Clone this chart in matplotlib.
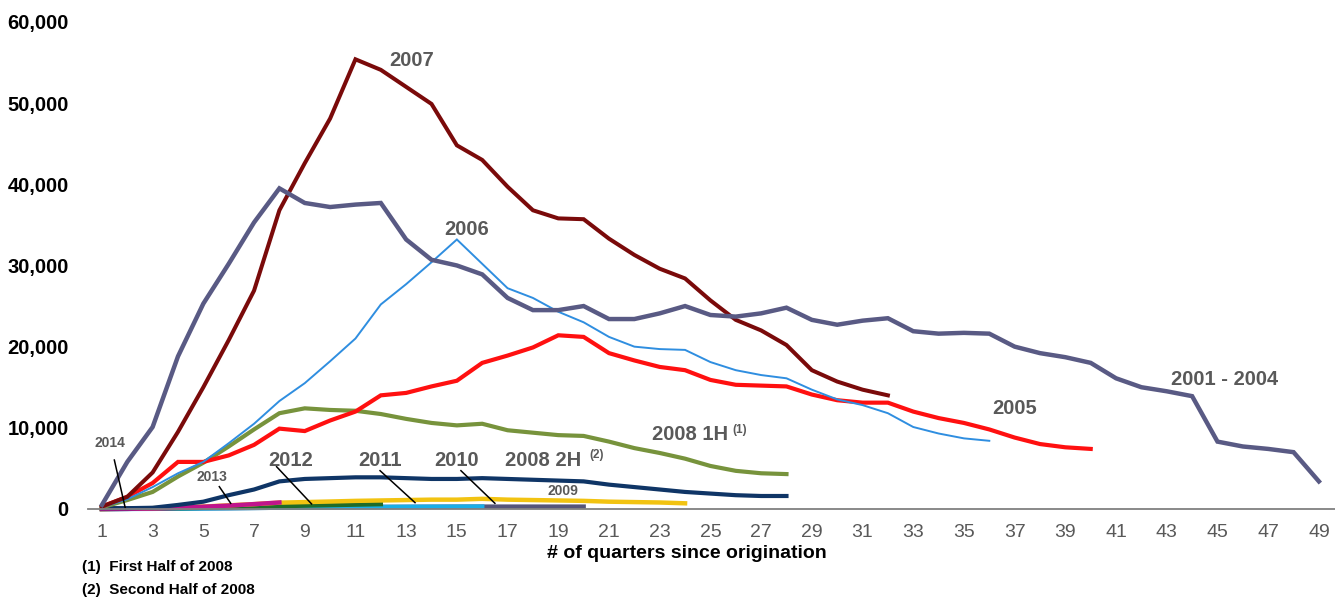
import matplotlib
matplotlib.use("Agg")
import matplotlib.pyplot as plt
import numpy as np

plt.rcParams['font.family'] = ['Liberation Sans', 'DejaVu Sans']

# values, quarter 1..n for each vintage
v2001_2004 = [500, 5800, 10100, 18800, 25300, 30200, 35300, 39500, 37700, 37200,
              37500, 37700, 33200, 30700, 30000, 28900, 26000, 24500, 24500, 25000,
              23400, 23400, 24100, 25000, 23900, 23700, 24100, 24800, 23300, 22700,
              23200, 23500, 21900, 21600, 21700, 21600, 20000, 19200, 18700, 18000,
              16100, 15000, 14500, 13900, 8300, 7700, 7400, 7000, 3400]
v2005 = [300, 1500, 3200, 5800, 5800, 6600, 7900, 9900, 9600, 10900,
         12000, 14000, 14300, 15100, 15800, 18000, 18900, 19900, 21400, 21200,
         19200, 18300, 17500, 17100, 15900, 15300, 15200, 15100, 14100, 13400,
         13100, 13100, 12000, 11200, 10600, 9800, 8800, 8000, 7600, 7400]
v2006 = [200, 1200, 2700, 4400, 5800, 8100, 10500, 13300, 15500, 18200,
         21000, 25200, 27700, 30400, 33200, 30200, 27200, 26000, 24300, 23000,
         21200, 20000, 19700, 19600, 18100, 17100, 16500, 16100, 14700, 13500,
         12800, 11800, 10100, 9300, 8700, 8400]
v2007 = [300, 1500, 4500, 9500, 15000, 20800, 26900, 36800, 42600, 48100,
         55400, 54100, 52000, 49900, 44800, 43000, 39700, 36800, 35800, 35700,
         33300, 31300, 29600, 28400, 25700, 23300, 22000, 20200, 17100, 15700,
         14700, 14000]
v2008_1h = [200, 1100, 2100, 4000, 5700, 7700, 9800, 11800, 12400, 12200,
            12100, 11700, 11100, 10600, 10300, 10500, 9700, 9400, 9100, 9000,
            8300, 7500, 6900, 6200, 5300, 4700, 4400, 4300]
v2008_2h = [100, 100, 150, 500, 900, 1700, 2400, 3400, 3700, 3800,
            3900, 3900, 3800, 3700, 3700, 3800, 3700, 3600, 3500, 3400,
            3000, 2700, 2400, 2100, 1900, 1700, 1600, 1600]
v2009 = [0, 50, 100, 200, 300, 450, 600, 780, 850, 920,
         1000, 1050, 1100, 1150, 1150, 1250, 1150, 1100, 1050, 1000,
         900, 850, 800, 700]
v2010 = [0, 20, 40, 60, 80, 100, 130, 160, 190, 210,
         230, 250, 260, 270, 280, 290, 290, 290, 290, 290]
v2011 = [0, 10, 20, 40, 70, 100, 130, 160, 190, 210,
         230, 250, 270, 280, 290, 300]
v2012 = [0, 20, 50, 100, 150, 200, 270, 350, 420, 480, 540, 600]
v2013 = [0, 20, 60, 150, 280, 420, 600, 800]
v2014 = [0, 20, 40, 60]

x_ticks = list(range(1, 50, 2))
y_ticks = [0, 10000, 20000, 30000, 40000, 50000, 60000]

fig = plt.figure(figsize=(13.35, 6.05), dpi=100)
ax = fig.add_axes([0.0659, 0.1587, 0.934, 0.805])

# (values, colour, width) drawn bottom to top
series = [
    (v2010, '#55557A', 3.2),
    (v2011, '#1AAEE8', 3.2),
    (v2012, '#1F6B2A', 3.2),
    (v2009, '#F2C311', 3.2),
    (v2014, '#7E7EA8', 2.5),
    (v2013, '#C0148C', 3.2),
    (v2008_2h, '#0F3566', 3.0),
    (v2008_1h, '#77933C', 3.0),
    (v2005, '#FF1010', 3.0),
    (v2006, '#2F8EE0', 1.4),
    (v2007, '#7A0A0A', 2.9),
    (v2001_2004, '#595A84', 3.2),
]
for vals, col, lw in series:
    q = np.arange(1, len(vals) + 1)
    ax.plot(q, vals, color=col, lw=lw, solid_joinstyle='miter', clip_on=False)

ax.set_xlim(0.45, 49.63)
ax.set_ylim(0, 60000)
ax.set_xticks(x_ticks)
ax.set_xticklabels([str(t) for t in x_ticks], fontsize=14, color='#595959')
ax.set_yticks(y_ticks)
ax.set_yticklabels(['{:,}'.format(t) for t in y_ticks], fontsize=14.5,
                   fontweight='bold', color='black')
ax.tick_params(axis='both', length=0)
ax.tick_params(axis='x', pad=11)
ax.tick_params(axis='y', pad=14)
for s in ['top', 'right', 'left']:
    ax.spines[s].set_visible(False)
ax.spines['bottom'].set_color('#808080')
ax.spines['bottom'].set_linewidth(1.3)

lab = dict(fontsize=14.5, fontweight='bold', color='#595959', ha='center', va='center')
small = dict(fontsize=10, fontweight='bold', color='#595959', ha='center', va='center')
sup = dict(fontsize=8.5, fontweight='bold', color='#595959', ha='center', va='center')
ax.text(13.23, 55300, '2007', **lab)
ax.text(15.4, 34480, '2006', **lab)
ax.text(37.0, 12440, '2005', **lab)
ax.text(45.26, 16010, '2001 - 2004', **lab)
ax.text(24.2, 9170, '2008 1H', **lab)
ax.text(26.17, 9730, '(1)', **sup)
ax.text(18.42, 5970, '2008 2H', **lab)
ax.text(20.5, 6650, '(2)', **sup)
ax.text(19.2, 2220, '2009', **small)

# labels with leader lines
leaders = [
    ('2014', (1.32, 8130), (1.49, 6030), (1.93, 0), small),
    ('2013', (5.34, 3940), (5.63, 2750), (6.08, 700), small),
    ('2012', (8.44, 5970), (7.89, 5210), (9.27, 620), lab),
    ('2011', (11.97, 5970), (11.97, 4720), (13.35, 780), lab),
    ('2010', (15.0, 5970), (15.16, 4720), (16.5, 700), lab),
]
for txt, pos, p0, p1, style in leaders:
    ax.text(pos[0], pos[1], txt, **style)
    ax.plot([p0[0], p1[0]], [p0[1], p1[1]], color='black', lw=1.1, clip_on=False)

fig.text(687 / 1335, 1 - 553 / 605, '# of quarters since origination', fontsize=14,
         fontweight='bold', ha='center', va='center')
fig.text(82 / 1335, 1 - 567 / 605, '(1)  First Half of 2008', fontsize=11,
         fontweight='bold', ha='left', va='center')
fig.text(82 / 1335, 1 - 590 / 605, '(2)  Second Half of 2008', fontsize=11,
         fontweight='bold', ha='left', va='center')

fig.savefig('out.png', dpi=100)
